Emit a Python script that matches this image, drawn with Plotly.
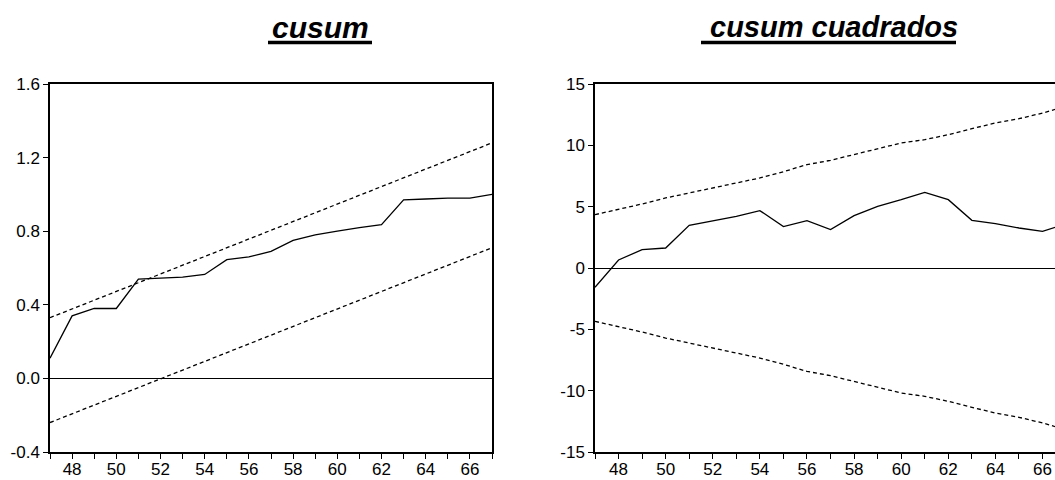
import plotly.graph_objects as go

W, H = 1055, 480

# ---------------- data ----------------
years = list(range(47, 68))

# left panel ("cusum")
cusum = [0.11, 0.34, 0.38, 0.38, 0.54, 0.545, 0.55, 0.565, 0.645, 0.66, 0.69,
         0.75, 0.78, 0.80, 0.82, 0.835, 0.97, 0.975, 0.98, 0.98, 1.0]
band_years = [47, 67]
cusum_upper = [0.33, 1.28]
cusum_lower = [-0.24, 0.71]

# right panel ("cusum cuadrados")
cusumsq = [-1.57, 0.65, 1.5, 1.63, 3.48, 3.86, 4.21, 4.68, 3.37, 3.86, 3.13,
           4.27, 5.03, 5.57, 6.17, 5.57, 3.89, 3.62, 3.26, 2.99, 3.6]
sq_upper = [4.35, 4.76, 5.22, 5.71, 6.12, 6.58, 6.93, 7.34, 7.85, 8.43, 8.78,
            9.24, 9.73, 10.19, 10.46, 10.87, 11.36, 11.82, 12.17, 12.63, 13.2]
sq_lower = [-4.35, -4.76, -5.22, -5.71, -6.12, -6.58, -6.93, -7.34, -7.85, -8.43, -8.78,
            -9.24, -9.73, -10.19, -10.46, -10.87, -11.36, -11.82, -12.17, -12.63, -13.2]

left_yticks = [-0.4, 0.0, 0.4, 0.8, 1.2, 1.6]
left_yticktext = ["-0.4", "0.0", "0.4", "0.8", "1.2", "1.6"]
right_yticks = [-15, -10, -5, 0, 5, 10, 15]
right_yticktext = ["-15", "-10", "-5", "0", "5", "10", "15"]
x_ticks = list(range(48, 67, 2))
x_ticktext = [str(v) for v in x_ticks]

titles = ["cusum", " cusum cuadrados"]

# ---------------- figure ----------------
FONT = "Liberation Sans, Arial, sans-serif"
solid = dict(color="black", width=1.3)
dashed = dict(color="black", width=1.3, dash="4px,3px")

fig = go.Figure()
fig.add_trace(go.Scatter(x=years, y=cusum, mode="lines", line=solid, xaxis="x", yaxis="y"))
fig.add_trace(go.Scatter(x=band_years, y=cusum_upper, mode="lines", line=dashed, xaxis="x", yaxis="y"))
fig.add_trace(go.Scatter(x=band_years, y=cusum_lower, mode="lines", line=dashed, xaxis="x", yaxis="y"))
fig.add_trace(go.Scatter(x=years, y=cusumsq, mode="lines", line=solid, xaxis="x2", yaxis="y2"))
fig.add_trace(go.Scatter(x=years, y=sq_upper, mode="lines", line=dashed, xaxis="x2", yaxis="y2"))
fig.add_trace(go.Scatter(x=years, y=sq_lower, mode="lines", line=dashed, xaxis="x2", yaxis="y2"))

ydom = [1 - 452 / H, 1 - 84 / H]
tickfont = dict(family=FONT, size=17, color="black")

common_x = dict(
    automargin=False,
    showgrid=False, zeroline=False, showline=True, linecolor="black", linewidth=1.5,
    ticks="outside", ticklen=5, tickwidth=1, tickcolor="black",
    tickvals=x_ticks, ticktext=x_ticktext, tickfont=tickfont,
    ticklabelstandoff=-4,
    minor=dict(dtick=1, tick0=47, ticks="outside", ticklen=5, tickwidth=1, tickcolor="black", showgrid=False),
)
common_y = dict(
    automargin=False,
    showgrid=False, zeroline=True, zerolinecolor="black", zerolinewidth=1.2,
    showline=True, linecolor="black", linewidth=1.5,
    ticks="outside", ticklen=5, tickwidth=1, tickcolor="black", tickfont=tickfont,
)

fig.update_layout(
    width=W, height=H,
    margin=dict(l=0, r=0, t=0, b=0, pad=0, autoexpand=False),
    paper_bgcolor="white", plot_bgcolor="white",
    showlegend=False,
    xaxis=dict(domain=[50 / W, 492 / W], range=[47, 67], mirror=True, anchor="y", **common_x),
    yaxis=dict(domain=ydom, range=[-0.4, 1.6], mirror=True, anchor="x",
               tickvals=left_yticks, ticktext=left_yticktext, **common_y),
    xaxis2=dict(domain=[595 / W, 1.0], range=[47, 66.53], mirror=True, anchor="y2", **common_x),
    yaxis2=dict(domain=ydom, range=[-15, 15], anchor="x2",
                tickvals=right_yticks, ticktext=right_yticktext, **common_y),
)

# titles (bold italic, underlined)
title_pos = [(320, 268, 372, 30), (834, 701, 956, 29)]
for text, (cx, u0, u1, fs) in zip(titles, title_pos):
    fig.add_annotation(
        x=cx / W, y=1 - 27 / H, xref="paper", yref="paper",
        text="<b><i>" + text.strip() + "</i></b>", showarrow=False,
        font=dict(family=FONT, size=fs, color="black"),
        xanchor="center", yanchor="middle",
    )
    fig.add_shape(type="line", xref="paper", yref="paper",
                  x0=u0 / W, x1=u1 / W, y0=1 - 42.5 / H, y1=1 - 42.5 / H,
                  line=dict(color="black", width=3.5))

fig.write_html("out.html", config={"displayModeBar": False},
               post_script="document.body.style.margin='0';document.body.style.overflow='hidden';")
